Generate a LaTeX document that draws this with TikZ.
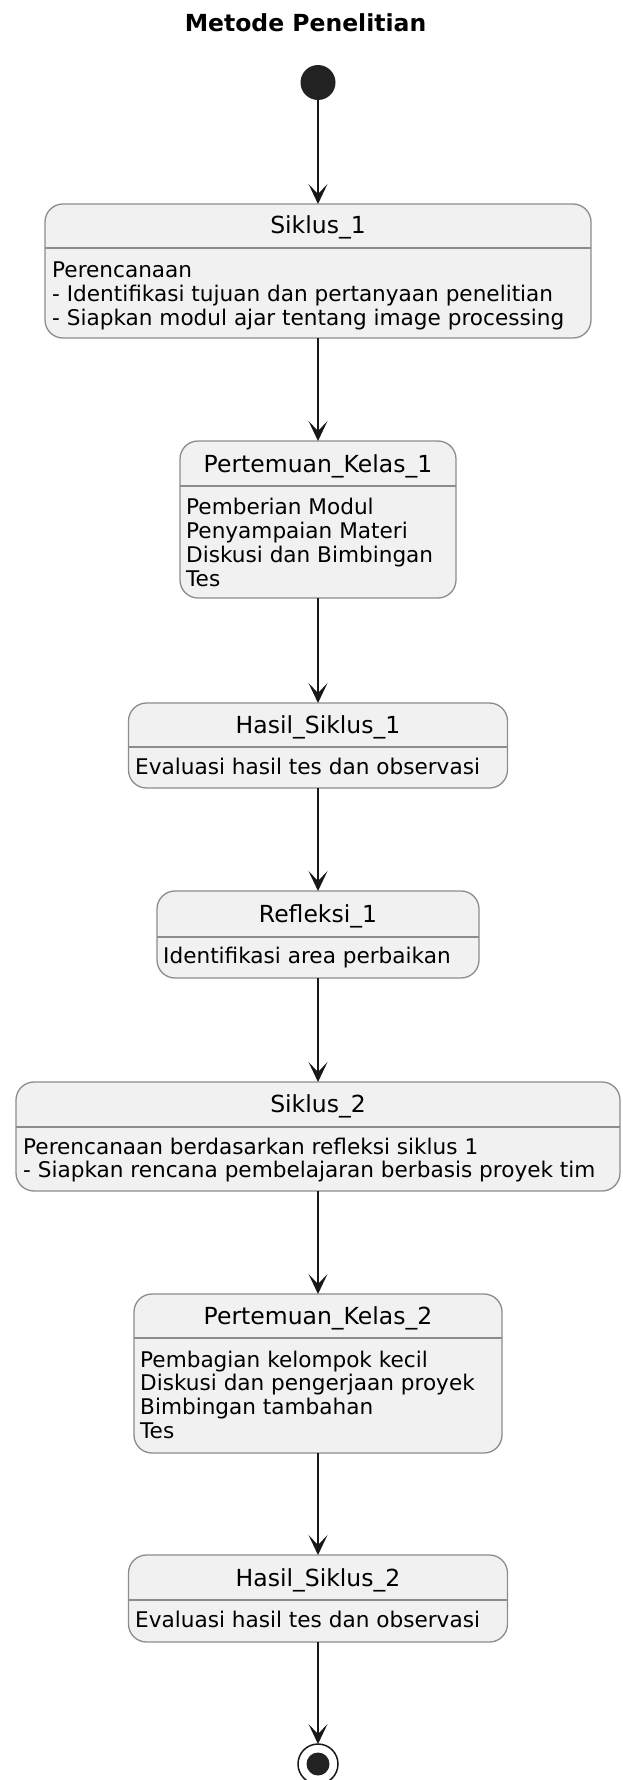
\documentclass[tikz,border=0pt]{standalone}
\usepackage{fontspec}
\setmainfont{DejaVu Sans}
\usetikzlibrary{arrows.meta}
\definecolor{bordergray}{HTML}{8C8C8C}
\definecolor{statefill}{HTML}{F1F1F1}
\definecolor{inkdark}{HTML}{181818}
\definecolor{dotdark}{HTML}{222222}
\tikzset{
  statebox/.style={draw=bordergray, fill=statefill, line width=1.3pt, rounded corners=18pt,
    inner sep=0pt, outer sep=0pt, anchor=north},
  sepline/.style={draw=bordergray, line width=1.3pt},
  nametext/.style={font=\fontsize{23.5}{28}\selectfont, text=black, inner sep=0pt, anchor=base},
  bodytext/.style={font=\fontsize{21.6}{24.3}\selectfont, text=black, inner sep=0pt, anchor=base west},
  flow/.style={draw=inkdark, line width=1.4pt, -{Stealth[length=20pt, width=19pt, inset=10pt]}},
  titletext/.style={font=\bfseries\fontsize{23.5}{28}\selectfont, text=black, inner sep=0pt, anchor=base}
}
\begin{document}
\begin{tikzpicture}[x=1pt, y=-1pt]
\useasboundingbox (0,0) rectangle (622,1780);
% title
\node[titletext] (title) at (305.5,31.5) {Metode Penelitian};
% start
\node[circle, fill=dotdark, minimum size=35pt, inner sep=0pt, outer sep=0pt] (start) at (318,82.5) {};
% Siklus_1
\node[statebox, minimum width=546pt, minimum height=134pt] (s1) at (318,204) {};
\draw[sepline] ([yshift=-44pt]s1.north west) -- ([yshift=-44pt]s1.north east);
\node[nametext] (s1n) at (318,233) {Siklus\_1};
\node[bodytext] (s1a) at (52,277) {Perencanaan};
\node[bodytext] (s1b) at (52,301) {- Identifikasi tujuan dan pertanyaan penelitian};
\node[bodytext] (s1c) at (52,325) {- Siapkan modul ajar tentang image processing};
% Pertemuan_Kelas_1
\node[statebox, minimum width=276pt, minimum height=157pt] (pk1) at (318,441) {};
\draw[sepline] ([yshift=-45pt]pk1.north west) -- ([yshift=-45pt]pk1.north east);
\node[nametext] (pk1n) at (318,472) {Pertemuan\_Kelas\_1};
\node[bodytext] (pk1a) at (186,514) {Pemberian Modul};
\node[bodytext] (pk1b) at (186,538) {Penyampaian Materi};
\node[bodytext] (pk1c) at (186,562) {Diskusi dan Bimbingan};
\node[bodytext] (pk1d) at (186,586) {Tes};
% Hasil_Siklus_1
\node[statebox, minimum width=379pt, minimum height=85pt] (hs1) at (318,703) {};
\draw[sepline] ([yshift=-44pt]hs1.north west) -- ([yshift=-44pt]hs1.north east);
\node[nametext] (hs1n) at (318,733) {Hasil\_Siklus\_1};
\node[bodytext] (hs1a) at (135,774) {Evaluasi hasil tes dan observasi};
% Refleksi_1
\node[statebox, minimum width=322pt, minimum height=87pt] (r1) at (318,891) {};
\draw[sepline] ([yshift=-46pt]r1.north west) -- ([yshift=-46pt]r1.north east);
\node[nametext] (r1n) at (318,922.5) {Refleksi\_1};
\node[bodytext] (r1a) at (163,963) {Identifikasi area perbaikan};
% Siklus_2
\node[statebox, minimum width=604pt, minimum height=109pt] (s2) at (318,1082) {};
\draw[sepline] ([yshift=-45pt]s2.north west) -- ([yshift=-45pt]s2.north east);
\node[nametext] (s2n) at (318,1112) {Siklus\_2};
\node[bodytext] (s2a) at (23,1154) {Perencanaan berdasarkan refleksi siklus 1};
\node[bodytext] (s2b) at (23,1177.5) {- Siapkan rencana pembelajaran berbasis proyek tim};
% Pertemuan_Kelas_2
\node[statebox, minimum width=368pt, minimum height=159pt] (pk2) at (318,1294) {};
\draw[sepline] ([yshift=-44pt]pk2.north west) -- ([yshift=-44pt]pk2.north east);
\node[nametext] (pk2n) at (318,1324) {Pertemuan\_Kelas\_2};
\node[bodytext] (pk2a) at (140,1367) {Pembagian kelompok kecil};
\node[bodytext] (pk2b) at (140,1390.5) {Diskusi dan pengerjaan proyek};
\node[bodytext] (pk2c) at (140,1414) {Bimbingan tambahan};
\node[bodytext] (pk2d) at (140,1438.5) {Tes};
% Hasil_Siklus_2
\node[statebox, minimum width=379pt, minimum height=87pt] (hs2) at (318,1555) {};
\draw[sepline] ([yshift=-45pt]hs2.north west) -- ([yshift=-45pt]hs2.north east);
\node[nametext] (hs2n) at (318,1586) {Hasil\_Siklus\_2};
\node[bodytext] (hs2a) at (135,1627) {Evaluasi hasil tes dan observasi};
% end
\node[circle, draw=inkdark, fill=white, line width=1.5pt, minimum size=40pt, inner sep=0pt, outer sep=0pt] (end) at (318,1764) {};
\node[circle, fill=dotdark, minimum size=23pt, inner sep=0pt] (enddot) at (end.center) {};
% connectors
\draw[flow] (start) -- (s1.north);
\draw[flow] (s1.south) -- (pk1.north);
\draw[flow] (pk1.south) -- (hs1.north);
\draw[flow] (hs1.south) -- (r1.north);
\draw[flow] (r1.south) -- (s2.north);
\draw[flow] (s2.south) -- (pk2.north);
\draw[flow] (pk2.south) -- (hs2.north);
\draw[flow] (hs2.south) -- (end);
\end{tikzpicture}
\end{document}
